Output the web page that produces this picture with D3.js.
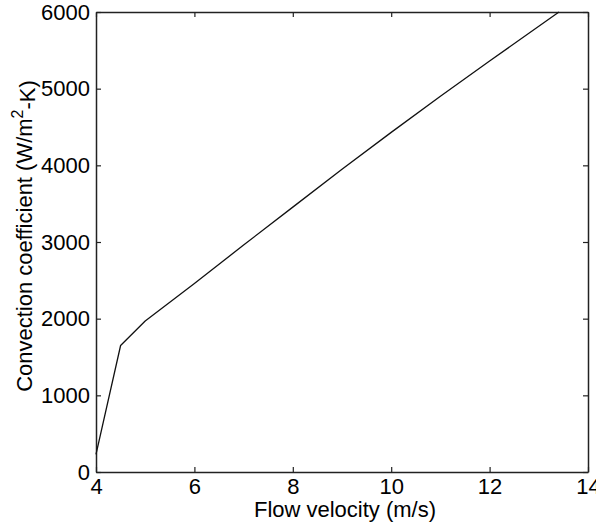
<!DOCTYPE html>
<html>
<head>
<meta charset="utf-8">
<script src="https://cdn.jsdelivr.net/npm/d3@7.9.0/dist/d3.min.js"></script>
<style>
  body { margin: 0; background: #fff; }
  svg { display: block; font-family: "Liberation Sans", Arial, sans-serif; }
</style>
</head>
<body>
<svg id="chart" width="596" height="525"></svg>
<script>
// flow velocity (m/s) vs convection coefficient (W/m^2-K)
const velocity = [4.0, 4.5, 5.0, 6.0, 7.0, 8.0, 9.0, 10.0, 11.0, 12.0, 13.41];
const coeff    = [230, 1650, 1970, 2460, 2960, 3455, 3950, 4430, 4900, 5360, 6000];
const xTicks = [4, 6, 8, 10, 12, 14];
const yTicks = [0, 1000, 2000, 3000, 4000, 5000, 6000];

const data = velocity.map((v, i) => ({ v: v, h: coeff[i] }));

let svg = d3.select('#chart');
let margin = { top: 12, right: 8, bottom: 53, left: 96 };
let width = 596 - margin.left - margin.right;
let height = 525 - margin.top - margin.bottom;
let g = svg.append("g").attr("transform", `translate(${margin.left},${margin.top})`);

let xScale = d3.scaleLinear().domain([4, 14]).range([0, width]);
let yScale = d3.scaleLinear().domain([0, 6000]).range([height, 0]);

const axisColor = "#222";
const tickLen = 5;
const fontSize = "22px";

// bottom axis (ticks pointing inward)
let xAxis = g.append("g").attr("transform", `translate(0,${height})`)
  .call(d3.axisBottom(xScale).tickValues(xTicks).tickFormat(d3.format("d"))
    .tickSizeInner(-tickLen).tickSizeOuter(0).tickPadding(6));
// left axis
let yAxis = g.append("g")
  .call(d3.axisLeft(yScale).tickValues(yTicks).tickFormat(d3.format("d"))
    .tickSizeInner(-tickLen).tickSizeOuter(0).tickPadding(6));
// top and right, ticks only
let xTop = g.append("g")
  .call(d3.axisTop(xScale).tickValues(xTicks).tickSizeInner(-tickLen).tickSizeOuter(0).tickFormat(""));
let yRight = g.append("g").attr("transform", `translate(${width},0)`)
  .call(d3.axisRight(yScale).tickValues(yTicks).tickSizeInner(-tickLen).tickSizeOuter(0).tickFormat(""));

[xAxis, yAxis, xTop, yRight].forEach(a => {
  a.select(".domain").attr("stroke", axisColor).attr("stroke-width", 1.5);
  a.selectAll(".tick line").attr("stroke", axisColor).attr("stroke-width", 1.2);
  a.selectAll("text").attr("fill", "#000").attr("font-size", fontSize)
    .attr("font-family", "'Liberation Sans', Arial, sans-serif");
});

// data line
let line = d3.line().x(d => xScale(d.v)).y(d => yScale(d.h));
g.append("path")
  .datum(data)
  .attr("fill", "none")
  .attr("stroke", "#111")
  .attr("stroke-width", 1.3)
  .attr("stroke-linejoin", "round")
  .attr("d", line);

// axis names
g.append("text")
  .attr("text-anchor", "middle")
  .attr("x", width / 2 + 3)
  .attr("y", height + margin.bottom - 8)
  .attr("font-size", fontSize)
  .text("Flow velocity (m/s)");

let yl = g.append("text")
  .attr("text-anchor", "middle")
  .attr("transform", "rotate(-90)")
  .attr("x", -height / 2 + 6)
  .attr("y", -margin.left + 32)
  .attr("font-size", fontSize);
yl.append("tspan").text("Convection coefficient (W/m");
yl.append("tspan").attr("dy", "-0.55em").attr("font-size", "16px").text("2");
yl.append("tspan").attr("dy", "0.55em").text("-K)");
</script>
</body>
</html>
